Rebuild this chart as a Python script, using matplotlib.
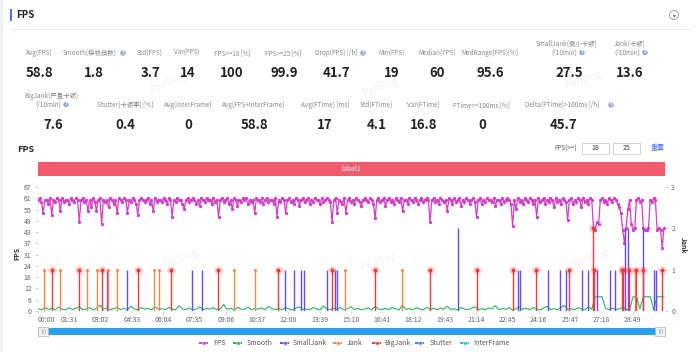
import numpy as np
import matplotlib
matplotlib.use('Agg')
import matplotlib.pyplot as plt
from matplotlib.patches import Rectangle, Circle

plt.rcParams['font.family'] = ['Noto Sans CJK SC', 'DejaVu Sans']

# ---- summary numbers ----
row1_labels = ['Avg(FPS)', 'Smooth(稳帧指数)', 'Std(FPS)', 'Var(FPS)', 'FPS>=18 [%]',
               'FPS>=25 [%]', 'Drop(FPS) [/h]', 'Min(FPS)', 'Median(FPS)',
               'MedRange(FPS)[%]', 'SmallJank(微小卡顿)\n(/10min)', 'Jank(卡顿)\n(/10min)']
row1_values = ['58.8', '1.8', '3.7', '14', '100', '99.9', '41.7', '19', '60', '95.6', '27.5', '13.6']
row2_labels = ['BigJank(严重卡顿)\n(/10min)', 'Stutter(卡顿率) [%]', 'Avg(InterFrame)',
               'Avg(FPS+InterFrame)', 'Avg(FTime) [ms]', 'Std(FTime)', 'Var(FTime)',
               'FTime>=100ms [%]', 'Delta(FTime)>100ms [/h]']
row2_values = ['7.6', '0.4', '0', '58.8', '17', '4.1', '16.8', '0', '45.7']

# ---- FPS, one sample every 5 s ----
fps_step = 5
fps = [
    60, 61, 59, 53, 60, 60, 58, 61, 52, 60, 59, 61,
    60, 54, 61, 59, 60, 60, 58, 61, 60, 59, 61, 60,
    48, 60, 61, 59, 60, 54, 60, 56, 61, 59, 54, 60,
    61, 47, 60, 59, 60, 56, 61, 60, 58, 60, 53, 61,
    60, 59, 61, 60, 53, 60, 59, 61, 60, 58, 52, 60,
    61, 60, 59, 60, 61, 58, 60, 54, 61, 59, 60, 60,
    59, 61, 60, 58, 61, 60, 51, 60, 59, 61, 60, 60,
    58, 55, 60, 61, 59, 60, 61, 60, 58, 60, 57, 61,
    60, 59, 61, 60, 60, 58, 61, 59, 60, 51, 60, 61,
    59, 60, 61, 58, 60, 55, 61, 60, 57, 60, 59, 61,
    60, 61, 58, 60, 59, 60, 53, 61, 60, 59, 61, 58,
    60, 61, 59, 60, 60, 58, 61, 51, 60, 59, 61, 60,
    53, 60, 61, 59, 60, 58, 61, 60, 57, 60, 61, 59,
    60, 61, 58, 60, 59, 61, 60, 60, 58, 61, 59, 60,
    61, 60, 59, 48, 60, 61, 53, 60, 59, 58, 61, 53,
    60, 61, 59, 60, 58, 61, 60, 59, 57, 60, 61, 60,
    59, 61, 60, 58, 50, 60, 61, 59, 60, 61, 57, 60,
    61, 59, 60, 58, 61, 60, 59, 61, 54, 60, 60, 58,
    61, 60, 59, 61, 60, 58, 60, 61, 59, 60, 61, 60,
    48, 60, 61, 59, 60, 58, 61, 60, 59, 60, 54, 61,
    60, 58, 61, 59, 60, 61, 57, 60, 59, 61, 60, 58,
    60, 61, 59, 51, 60, 61, 58, 60, 59, 61, 60, 60,
    59, 61, 57, 60, 60, 58, 61, 59, 60, 61, 60, 58,
    46, 60, 55, 61, 59, 60, 58, 61, 60, 59, 61, 60,
    58, 60, 51, 61, 59, 60, 61, 58, 60, 59, 61, 60,
    56, 61, 59, 60, 58, 61, 60, 59, 49, 60, 61, 58,
    60, 59, 61, 60, 56, 61, 59, 60, 58, 61, 60, 45,
    44, 48, 47, 60, 61, 59, 60, 58, 61, 60, 59, 61,
    60, 58, 56, 53, 44, 37, 45, 55, 60, 47, 44, 45,
    60, 61, 59, 60, 45, 44, 44, 45, 60, 59, 61, 60,
    44, 45, 44, 34, 45,
]

# ---- Smooth, one sample every 10 s ----
smooth_step = 10
smooth = [
    1.2, 0.6, 1.8, 0.9, 1.5, 0.7, 2.1, 1.0, 0.6, 1.7, 0.8, 1.3,
    2.4, 0.7, 1.1, 1.9, 0.6, 1.4, 3.2, 0.9, 1.6, 0.7, 1.2, 2.0,
    0.8, 1.5, 0.6, 2.6, 1.1, 0.7, 1.8, 1.0, 1.4, 0.6, 2.2, 0.9,
    1.3, 0.7, 1.9, 1.1, 0.6, 2.8, 1.2, 0.8, 1.6, 0.7, 1.0, 2.3,
    0.6, 1.4, 1.0, 1.8, 0.7, 1.2, 3.5, 0.9, 1.5, 0.6, 1.9, 1.1,
    0.8, 2.1, 0.7, 1.3, 1.0, 1.7, 0.6, 2.5, 1.2, 0.8, 1.4, 0.7,
    1.9, 1.0, 0.6, 1.6, 2.2, 0.8, 1.1, 0.7, 1.8, 1.3, 0.6, 2.7,
    1.0, 0.7, 1.5, 0.9, 1.9, 0.6, 1.2, 2.3, 0.8, 1.4, 0.7, 1.1,
    1.7, 0.6, 2.4, 1.0, 0.8, 1.5, 0.7, 1.9, 1.2, 0.6, 3.0, 0.9,
    1.3, 0.7, 1.8, 1.1, 0.6, 2.0, 0.9, 1.4, 0.7, 1.6, 1.0, 2.6,
    0.8, 1.2, 0.6, 1.9, 1.0, 0.7, 1.5, 2.2, 0.8, 1.3, 0.6, 1.7,
    1.1, 2.9, 0.7, 1.4, 0.9, 1.8, 0.6, 1.2, 2.1, 0.8, 1.5, 0.7,
    1.9, 1.0, 0.6, 1.6, 2.4, 0.8, 1.3, 0.7, 1.7, 3.1, 0.9, 1.2,
    0.7, 1.8, 1.1, 0.6, 2.2, 1.0, 7.7, 7.7, 7.7, 1.4, 0.8, 1.6,
    0.7, 1.2, 2.0, 0.9, 0.6, 7.7, 7.7, 1.1, 7.7, 7.7, 7.7, 0.8,
    7.7, 7.7, 7.7,
]

# ---- jank events (seconds, height on right axis) ----
jank_t = [18, 65, 143, 172, 203, 231, 337, 353, 571, 631, 893, 1058, 1735]
bigjank_t = [40, 120, 187, 292, 387, 522, 697, 855, 980, 1140, 1277, 1382,
             1448, 1543, 1614, 1616, 1697, 1701, 1719, 1740, 1760, 1813]
bigjank_h = [1, 1, 1, 1, 1, 1, 1, 1, 1, 1, 1, 1,
             1, 1, 2, 1, 1, 1, 1, 1, 1, 1]
smalljank_t = [200, 259, 447, 478, 718, 745, 764, 774, 839, 863, 868, 1222,
               1396, 1401, 1483, 1517, 1535, 1581, 1600, 1626, 1663, 1677,
               1706, 1716, 1760, 1792, 1798]
smalljank_h = [1, 1, 1, 1, 1, 1, 1, 1, 1, 1, 1, 2,
               1, 1, 1, 1, 1, 1, 1, 1, 1, 1,
               2, 2, 2, 1, 1]

tick_sec = [0, 91, 182, 273, 364, 455, 546, 637, 728, 819, 910, 1001, 1092,
            1183, 1274, 1365, 1456, 1547, 1638, 1729]
tick_lbl = ['00:00', '01:31', '03:02', '04:33', '06:04', '07:35', '09:06', '10:37',
            '12:08', '13:39', '15:10', '16:41', '18:12', '19:43', '21:14', '22:45',
            '24:16', '25:47', '27:18', '28:49']
fps_tick_lbl = ['0', '6', '12', '18', '24', '31', '37', '43', '49', '55', '61', '67']
t_end = 1823

legend_names = ['FPS', 'Smooth', 'SmallJank', 'Jank', 'BigJank', 'Stutter', 'InterFrame']
C_FPS = '#d43fc7'
C_SMOOTH = '#2cb561'
C_SMALL = '#6a4af0'
C_JANK = '#f7874f'
C_BIG = '#ec3b3b'
C_STUT = '#4f7df0'
C_INTER = '#22c7d6'
legend_colors = [C_FPS, C_SMOOTH, C_SMALL, C_JANK, C_BIG, C_STUT, C_INTER]

W, H = 700, 352
fig = plt.figure(figsize=(7, 3.52), dpi=100, facecolor='white')

# overlay in pixel coordinates for the dashboard parts
ov = fig.add_axes([0, 0, 1, 1])
ov.set_xlim(0, W)
ov.set_ylim(H, 0)
ov.axis('off')

ov.add_patch(Rectangle((0, 0), 3, H, color='#f0f1f4', lw=0))
ov.add_patch(Rectangle((10, 9), 2.2, 12, color='#5b6ef5', lw=0))
ov.text(16, 15, 'FPS', fontsize=7, fontweight='bold', color='#222', va='center')
ov.plot([10, 690], [29, 29], color='#eeeeee', lw=0.8)
ov.add_patch(Circle((674, 15), 4.5, fc='white', ec='#999', lw=0.6))
ov.text(674, 15.5, '▾', fontsize=4, color='#666', ha='center', va='center',
        family=['DejaVu Sans'])


def help_icon(x, y):
    ov.add_patch(Circle((x, y), 2.7, fc='#8ea6d8', ec='none'))
    ov.text(x, y + 0.2, '?', fontsize=3.3, color='white', ha='center', va='center',
            fontweight='bold', family=['DejaVu Sans'])


def stat_label(x, y_one, lbl):
    # two-line labels are drawn line by line, centred on the same x
    lines = lbl.split('\n')
    if len(lines) == 1:
        ov.text(x, y_one, lbl, fontsize=4.6, color=LBL_C, ha='center', va='center')
    else:
        ov.text(x, y_one - 9, lines[0], fontsize=4.6, color=LBL_C, ha='center', va='center')
        ov.text(x - 3, y_one - 0.5, lines[1], fontsize=4.6, color=LBL_C, ha='center', va='center')


LBL_C = '#888'
row1_x = [39, 90, 150, 187, 232, 283, 336, 392, 437, 490, 567, 630]
row1_vx = [39, 94, 151, 188, 232, 284, 337, 392, 437, 490, 569, 630]
for lbl, x in zip(row1_labels, row1_x):
    stat_label(x, 53, lbl)
for val, x in zip(row1_values, row1_vx):
    ov.text(x, 73, val, fontsize=9.5, fontweight='bold', color='#222', ha='center', va='center')

row2_x = [51, 125, 188, 254, 325, 376, 423, 481, 562]
row2_vx = [53, 125, 188, 254, 325, 377, 424, 482, 564]
for lbl, x in zip(row2_labels, row2_x):
    stat_label(x, 105, lbl)
for val, x in zip(row2_values, row2_vx):
    ov.text(x, 125, val, fontsize=9.5, fontweight='bold', color='#222', ha='center', va='center')

for x, y in [(123, 53), (363, 53), (582, 52.5), (645, 52.5), (66, 104.5), (611, 105)]:
    help_icon(x, y)

# chart header
ov.text(17, 150, 'FPS', fontsize=6.5, fontweight='bold', color='#222', va='center')
ov.text(566, 149, 'FPS(>=)', fontsize=4.5, color='#555', ha='center', va='center')
for bx, txt in [(582, '18'), (613, '25')]:
    ov.add_patch(Rectangle((bx, 143), 27, 11, fc='white', ec='#cccccc', lw=0.6))
    ov.text(bx + 13.5, 148.5, txt, fontsize=5, color='#333', ha='center', va='center')
ov.text(658, 148.5, '重置', fontsize=5, color='#4a6cf5', ha='center', va='center')

ov.add_patch(Rectangle((38, 162), 627, 14, color='#f25a6b', lw=0))
ov.text(351, 169, 'label1', fontsize=5, color='white', ha='center', va='center')

# axis titles
ov.text(17, 253, 'FPS', fontsize=5, fontweight='bold', color='#333', rotation=90,
        ha='center', va='center')
ov.text(683, 245, 'Jank', fontsize=5, fontweight='bold', color='#333', rotation=270,
        ha='center', va='center')

# zoom slider
ov.add_patch(Rectangle((38, 327.5), 627, 7, color='#2d9ff0', lw=0))
for hx in (38, 655):
    ov.add_patch(Rectangle((hx, 326.5), 10, 9, fc='#eef0f3', ec='#b8bcc4', lw=0.6))
    for dx in (3.5, 5, 6.5):
        ov.plot([hx + dx, hx + dx], [329, 333], color='#9aa0aa', lw=0.4)

# legend
leg_icon_x = [199, 233, 280, 333, 372, 415, 460]
leg_text_x = [213, 247, 293, 347, 384, 430, 473]
for name, col, ix, tx in zip(legend_names, legend_colors, leg_icon_x, leg_text_x):
    ov.plot([ix, ix + 9], [343, 343], color=col, lw=1.4, solid_capstyle='butt')
    ov.plot([ix + 4.5], [343], marker='o', ms=2.6, color=col, mec='white', mew=0.4)
    ov.text(tx, 343, name, fontsize=5, color='#555', va='center')

# watermarks
for wx, wy in [(167, 83), (380, 87), (583, 80), (180, 258), (378, 262), (590, 258)]:
    ov.text(wx, wy, 'PerfDog', fontsize=7, color='#000', alpha=0.05, rotation=20,
            ha='center', va='center')

# ---- the chart ----
x0, x1, y_top, y_bot = 38, 665, 187, 311
ax = fig.add_axes([x0 / W, 1 - y_bot / H, (x1 - x0) / W, (y_bot - y_top) / H])
ax.set_facecolor('none')
ax2 = ax.twinx()

fps_t = np.arange(len(fps)) * fps_step
smooth_t = np.arange(len(smooth)) * smooth_step

ax.plot(smooth_t, smooth, color=C_SMOOTH, lw=0.8, zorder=2)
ax.plot(fps_t, fps, color=C_FPS, lw=0.9, marker='o', ms=2.4, mew=0, zorder=3)

ax.set_xlim(0, t_end)
ax.set_ylim(0, 67)
ax.set_yticks(np.linspace(0, 67, 12))
ax.set_yticklabels(fps_tick_lbl)
ax.set_xticks(tick_sec)
ax.set_xticklabels(tick_lbl)
ax.get_xticklabels()[0].set_ha('left')
ax.tick_params(axis='x', labelsize=5, labelcolor='#666', color='#ccc', length=2,
               width=0.5, pad=1.5)
ax.tick_params(axis='y', labelsize=5, labelcolor='#666', color='#bbb', length=2.5,
               width=0.5, pad=2)

ax2.set_ylim(0, 3)
ax2.set_yticks([0, 1, 2, 3])
ax2.tick_params(axis='y', labelsize=5, labelcolor='#666', color='#bbb', length=2.5,
                width=0.5, pad=2)
ax2.axhline(0, color='#f7a072', lw=0.8, zorder=1)

ax2.vlines(smalljank_t, 0, smalljank_h, color=C_SMALL, lw=1.0, zorder=3)
ax2.vlines(jank_t, 0, 1, color=C_JANK, lw=1.0, zorder=3)
ax2.plot(jank_t, [1] * len(jank_t), 'o', color=C_JANK, ms=2.2, mew=0, zorder=4)
ax2.vlines(bigjank_t, 0, bigjank_h, color=C_BIG, lw=1.0, zorder=3)
ax2.scatter(bigjank_t, bigjank_h, s=38, color=C_BIG, alpha=0.22, lw=0, zorder=4)
ax2.scatter(bigjank_t, bigjank_h, s=8, color=C_BIG, lw=0, zorder=5)

for a in (ax, ax2):
    for sp in a.spines.values():
        sp.set_visible(False)

fig.savefig('out.png', dpi=100, facecolor='white')
